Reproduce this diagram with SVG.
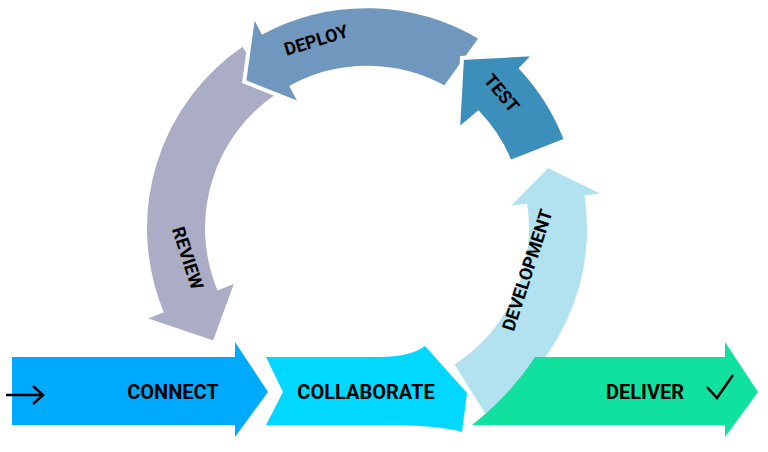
<svg xmlns="http://www.w3.org/2000/svg" width="768" height="452" viewBox="0 0 768 452">
<style>
.s{stroke:#fff;stroke-width:4;stroke-linejoin:miter}
.t{font-family:Roboto,"Liberation Sans",sans-serif;font-weight:bold;fill:#000;text-anchor:middle;dominant-baseline:central}
.r{font-size:18px}
.b{font-size:20px}
</style>
<rect width="768" height="452" fill="#fff"/>
<g id="review"><path class="s" fill="#abacc5" d="M242.9,44 A222,222 0 0 0 161.2,311.2 L142.7,318.7 L214.4,343 L237.2,280.5 L218.7,288 A160,160 0 0 1 277.6,95.4 Z"/><text class="t r" transform="translate(188,258) rotate(72)">REVIEW</text></g>
<g id="deploy"><path class="s" fill="#7098bf" d="M481,38 A222,222 0 0 0 262.8,32 L253.5,14.3 L244.2,81.7 L301.3,104.4 L291.9,86.7 A160,160 0 0 1 445,88 Z"/><text class="t r" transform="translate(316,40) rotate(-17)">DEPLOY</text></g>
<g id="test"><path class="s" fill="#3b8fba" d="M566,140 A222,222 0 0 0 521.3,68.4 L535.2,54 L462,58 L458,130 L478.2,113 A160,160 0 0 1 510,162 Z"/><text class="t r" transform="translate(502,93) rotate(50)">TEST</text></g>
<g id="development"><path class="s" fill="#b2e2f0" d="M484.7,416.3 A222,222 0 0 0 586.8,197.1 L606.6,194.4 L547.7,165.7 L505.6,208.5 L525.4,205.8 A160,160 0 0 1 451.8,363.7 Z"/><text class="t r" transform="translate(527,270) rotate(-72)">DEVELOPMENT</text></g>
<g id="connect"><path fill="#00aaff" d="M12,357 H235 V342 L268,392 L235,437 V425 H12 Z"/><text class="t b" x="173" y="392">CONNECT</text><path d="M6,395 H42 M33,386 L43,395 L33,404" fill="none" stroke="#000" stroke-width="2.5"/></g>
<g id="collaborate"><path fill="#00d8ff" d="M266,357 H380 Q410,357 425,346 L467,393 L462,432 Q440,425 380,425 H266 L283,392 Z"/><text class="t b" x="366" y="392">COLLABORATE</text></g>
<g id="deliver"><path fill="#10e19e" d="M535,357 H725 V342 L758,392 L725,437 V425 H472 Q510,395 535,357 Z"/><text class="t b" x="645" y="392">DELIVER</text><path d="M707,387 L717,398 L733,375" fill="none" stroke="#000" stroke-width="2.5"/></g>
<g id="connectors"/>
</svg>
